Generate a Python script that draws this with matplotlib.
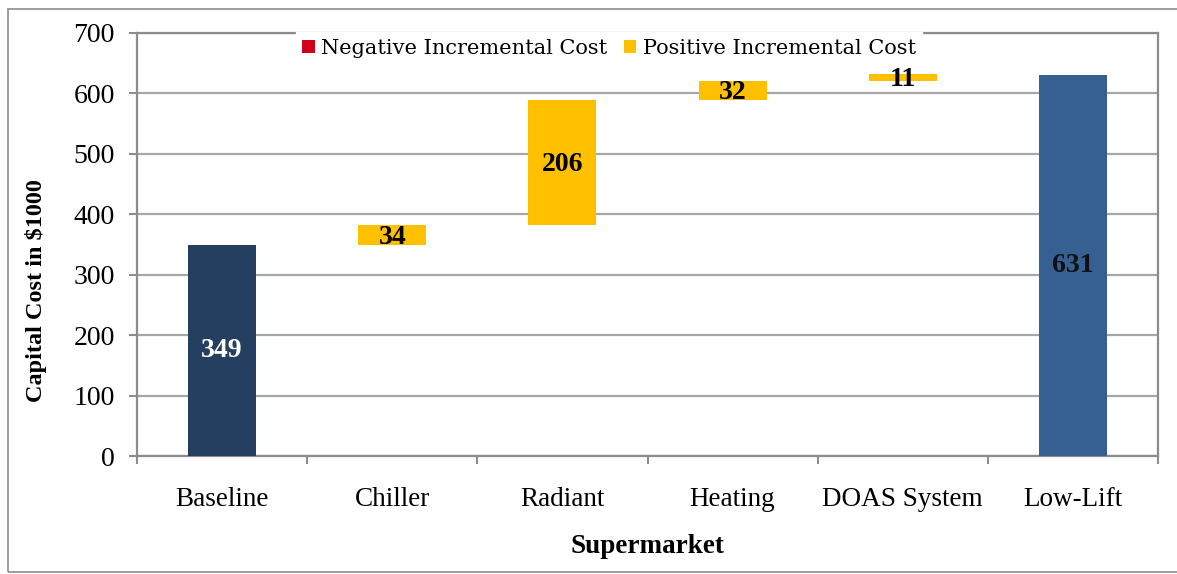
import numpy as np
import matplotlib.pyplot as plt
from matplotlib.patches import Rectangle

# data
categories = ["Baseline", "Chiller", "Radiant", "Heating", "DOAS System", "Low-Lift"]
totals = [349, 0, 0, 0, 0, 631]          # full bars (first and last)
increments = [0, 34, 206, 32, 11, 0]      # positive incremental cost
negatives = [0, 0, 0, 0, 0, 0]            # negative incremental cost (none)

plt.rcParams['font.family'] = ['Liberation Serif', 'DejaVu Serif']

fig = plt.figure(figsize=(11.77, 5.74), dpi=100)
ax = fig.add_axes([137/1177, 1 - 456/574, (1158-137)/1177, (456-33)/574])

# outer frame like the exported chart
fig.patches.append(Rectangle((8/1177, 2/574), 1.0, 1 - 11/574, transform=fig.transFigure,
                             fill=False, edgecolor="#8c8c8c", lw=1.2))

x = np.arange(len(categories))
w = 0.4
bottoms = np.concatenate([[0], np.cumsum(increments)[:-1] + totals[0]])
bottoms = [b if inc else 0 for b, inc in zip(bottoms, increments)]

tot_colors = ["#243f60", "#243f60", "#243f60", "#243f60", "#243f60", "#366092"]
ax.bar(x, totals, w, color=tot_colors, zorder=3)
ax.bar(x, negatives, w, color="#d0021b", label="Negative Incremental Cost", zorder=3)
ax.bar(x, increments, w, bottom=bottoms, color="#ffc000", label="Positive Incremental Cost", zorder=3)

# value labels
for i in range(len(categories)):
    if totals[i]:
        col = "white" if i == 0 else "#111111"
        ax.text(x[i], totals[i] / 2, str(totals[i]), ha="center", va="center",
                fontsize=20, fontweight="bold", color=col, zorder=4)
    if increments[i]:
        ax.text(x[i], bottoms[i] + increments[i] / 2 - 4, str(increments[i]), ha="center", va="center",
                fontsize=20, fontweight="bold", color="black", zorder=4)

ax.set_xlim(-0.5, len(categories) - 0.5)
ax.set_ylim(0, 700)
ax.set_yticks(np.arange(0, 701, 100))
ax.yaxis.grid(True, color="#a6a6a6", lw=1.6, zorder=0)
ax.set_axisbelow(True)

ax.set_xticks(x)
ax.set_xticklabels(categories, fontsize=19.5)
ax.set_xticks(np.arange(-0.5, len(categories), 1), minor=True)
ax.tick_params(axis="x", which="major", length=0, pad=22)
ax.tick_params(axis="x", which="minor", length=6, width=1.5, color="#8c8c8c", direction="out")
ax.tick_params(axis="y", length=6, width=1.5, color="#8c8c8c", pad=10, labelsize=20)

for s in ax.spines.values():
    s.set_color("#8c8c8c")
    s.set_linewidth(1.6)

ax.set_ylabel("Capital Cost in $1000", fontsize=17.5, fontweight="bold")
ax.yaxis.set_label_coords(-0.088, 0.392)
ax.set_xlabel("Supermarket", fontsize=19.5, fontweight="bold", labelpad=16)

leg = ax.legend(loc="center", bbox_to_anchor=(609/1177, 1 - 48/574), bbox_transform=fig.transFigure,
                ncol=2, frameon=True, handlelength=0.6, handleheight=0.6,
                handletextpad=0.3, columnspacing=0.8, borderpad=0.3, fancybox=False,
                prop={"family": "DejaVu Serif", "size": 15})
leg.get_frame().set_edgecolor("white")
leg.get_frame().set_facecolor("white")
leg.get_frame().set_alpha(1)

fig.savefig("out.png", dpi=100)
